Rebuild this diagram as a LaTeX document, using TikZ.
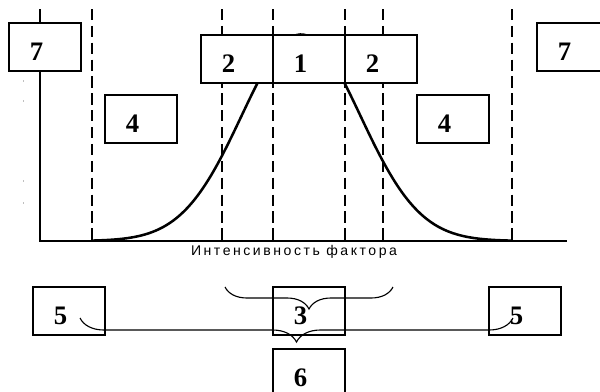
\documentclass[tikz,border=0pt]{standalone}
\usepackage{fontspec}
\setmainfont{Liberation Serif}
\newfontfamily\axisfont[LetterSpace=18]{Liberation Sans}
\usetikzlibrary{decorations.pathreplacing}

\begin{document}
\begin{tikzpicture}[x=0.25mm, y=-0.25mm,
    numbox/.style={draw, line width=1.3pt, fill=white, minimum width=18mm, minimum height=12mm,
        font=\fontsize{19}{21}\selectfont\bfseries, text height=19.5pt, text depth=0pt,
        execute at end node={\hspace*{12pt}}},
    guide/.style={dash pattern=on 8pt off 4pt, line width=0.9pt},
    curly/.style={decorate, decoration={brace, mirror, amplitude=#1}, line width=0.8pt}]
    \useasboundingbox (0,0) rectangle (600,392);
    \clip (0,0) rectangle (600,392);

    % Constants for the axes
    \def\ytop{9} % upper end of axis and guides
    \def\yaxis{241} % level of the x axis

    % Dashed zone borders
    \foreach \xg in {92,222,273,345,383,512}
        \draw[guide] (\xg,\ytop) -- (\xg,\yaxis);

    % Faint ticks on the y axis
    \foreach \yt in {80,100,180,202}
        \draw[gray!50, line width=0.5pt] (23,\yt) -- (23,\yt+2);

    % Draw axes
    \draw[line width=2pt] (40,\ytop) -- (40,\yaxis) -- (567,\yaxis);

    % Bell curve
    \draw[line width=1.8pt, domain=92:512, samples=120, smooth]
        plot (\x, {\yaxis-206.5*exp(-0.5*((\x-301)/59.4)^2)});

    % Boxes above the axis
    \node[numbox] (sevenl) at (45,47) {7};
    \node[numbox] (sevenr) at (573,47) {7};
    \node[numbox] (twol) at (237,59) {2};
    \node[numbox] (one) at (309,59) {1};
    \node[numbox] (twor) at (381,59) {2};
    \node[numbox] (fourl) at (141,119) {4};
    \node[numbox] (fourr) at (453,119) {4};

    % Axis label
    \node[font=\axisfont\fontsize{10}{12}\selectfont] (factor) at (294,252) {Интенсивность фактора};

    % Boxes below the axis
    \node[numbox] (fivel) at (69,311) {5};
    \node[numbox] (three) at (309,311) {3};
    \node[numbox] (fiver) at (525,311) {5};
    \node[numbox] (six) at (309,373) {6};

    % Braces
    \coordinate (optl) at (225,287);
    \coordinate (optr) at (393,287);
    \coordinate (pesl) at (80,318);
    \coordinate (pesr) at (513,318);
    \draw[curly=5.5mm] (optl) -- (optr);
    \draw[curly=6mm] (pesl) -- (pesr);
\end{tikzpicture}
\end{document}
